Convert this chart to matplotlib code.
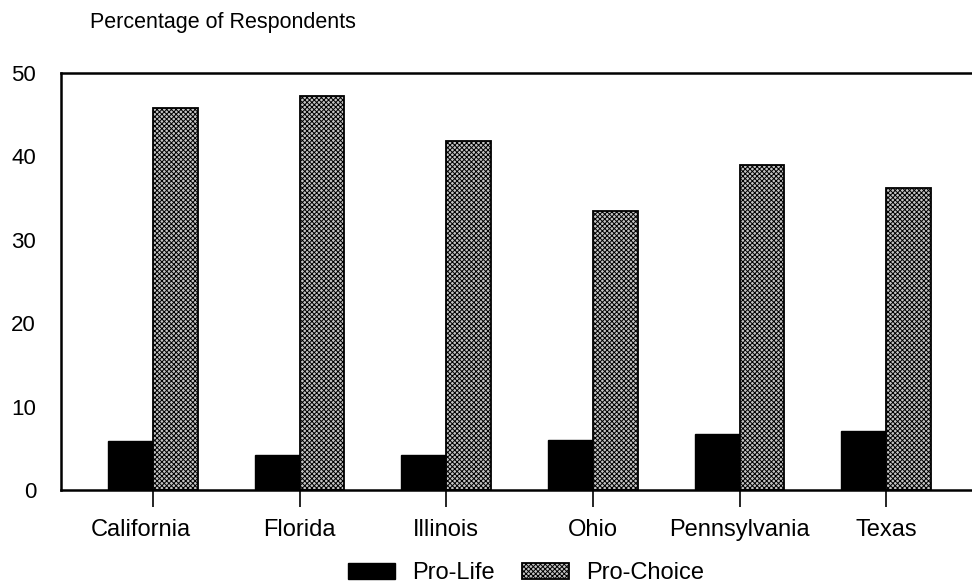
import numpy as np
import matplotlib
matplotlib.use("Agg")
from matplotlib import pyplot as plt
from matplotlib.transforms import ScaledTranslation

plt.rcParams['font.family'] = ['Liberation Sans', 'DejaVu Sans']
plt.rcParams['hatch.linewidth'] = 0.7

# data
states = ["California", "Florida", "Illinois", "Ohio", "Pennsylvania", "Texas"]
pro_life = [5.9, 4.2, 4.2, 6.0, 6.7, 7.1]
pro_choice = [45.8, 47.2, 41.8, 33.5, 39.0, 36.2]

fig = plt.figure(figsize=(9.72, 5.86), dpi=100)
ax = fig.add_axes([0.0628, 0.1638, 0.9372, 0.7116])

x = np.arange(len(states))
w = 0.305
ax.bar(x - w / 2, pro_life, w, color='black', edgecolor='black', linewidth=1, label='Pro-Life')
ax.bar(x + w / 2, pro_choice, w, color='#c4c4c4', edgecolor='black', linewidth=1.3,
       hatch='xxxxxxx', label='Pro-Choice')

ax.set_xlim(-0.626, 5.585)
ax.set_ylim(0, 50)
ax.set_yticks([0, 10, 20, 30, 40, 50])
ax.set_xticks(x)
ax.set_xticklabels(states)

for s in ['left', 'top', 'bottom']:
    ax.spines[s].set_linewidth(1.8)
ax.spines['right'].set_visible(False)
ax.tick_params(axis='y', length=0, pad=18, labelsize=16)
ax.tick_params(axis='x', length=12.5, width=1.2, pad=8.5, labelsize=17)

# the first label sits a little left of its tick in the original
lab0 = ax.get_xticklabels()[0]
lab0.set_transform(lab0.get_transform() + ScaledTranslation(-0.12, 0, fig.dpi_scale_trans))

fig.text(0.093, 0.962, "Percentage of Respondents", fontsize=15.5, va='center')

fig.legend(loc='center', bbox_to_anchor=(0.541, 0.022), ncol=2, frameon=False,
           fontsize=17, handlelength=2.0, handleheight=0.68, columnspacing=1.15,
           handletextpad=0.72)

plt.savefig('out.png', dpi=100)
